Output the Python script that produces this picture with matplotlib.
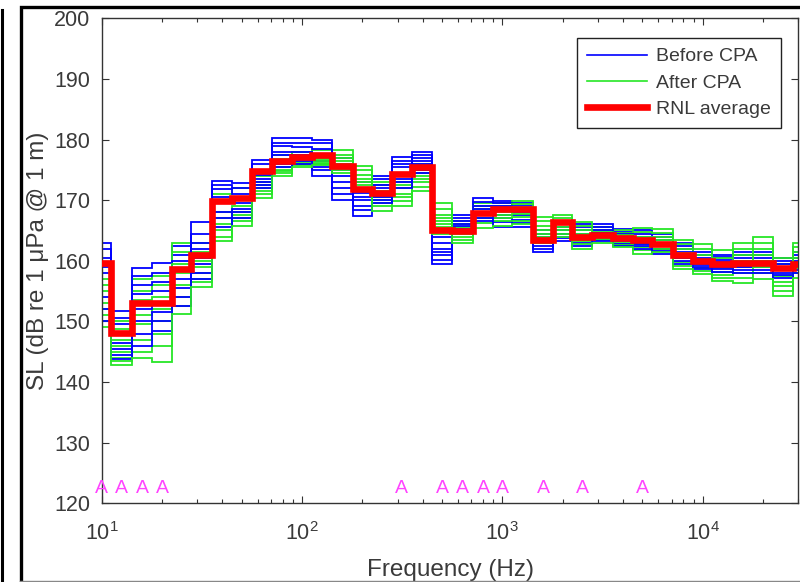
import numpy as np
import matplotlib
matplotlib.use("Agg")
import matplotlib.pyplot as plt
from matplotlib.lines import Line2D
from matplotlib.ticker import LogLocator, NullFormatter

plt.rcParams['font.family'] = ['Liberation Sans', 'DejaVu Sans']

# 1/3-octave band centre frequencies (Hz)
bands = [10, 12.5, 16, 20, 25, 31.5, 40, 50, 63, 80, 100, 125, 160, 200, 250,
         315, 400, 500, 630, 800, 1000, 1250, 1600, 2000, 2500, 3150, 4000,
         5000, 6300, 8000, 10000, 12500, 16000, 20000, 25000, 31500]

# Before CPA: per band, levels of the individual runs (dB)
before_cpa = [
    [163, 162, 160.5, 159, 158, 154, 152, 150],
    [151.7, 150.5, 149.5, 148, 146.5, 145.5, 144.5, 143.8],
    [158.8, 157.5, 156, 154.5, 152, 150, 148, 146],
    [159.7, 158, 156.5, 155, 153, 151.5, 150, 148.5],
    [162.4, 161, 160, 158.5, 157, 155.5, 154, 152.5],
    [166.4, 164.5, 163, 162, 160.5, 159.5, 158, 157],
    [173.1, 172.5, 171.8, 170.5, 169.5, 168, 167, 165.5],
    [172.9, 172, 171, 170.5, 169.5, 168.5, 168, 167],
    [176.7, 176, 175, 174.2, 173.5, 173, 172.5, 172],
    [180.3, 179.5, 179, 178, 177.5, 176.5, 176, 175.5],
    [180.2, 179.5, 178.8, 178, 177.5, 177, 176.5, 176],
    [180, 179.5, 178.5, 177.5, 176.5, 175.5, 175, 174],
    [177, 176, 175, 174, 173, 172, 171, 170],
    [173, 172, 171.2, 170.5, 170, 169, 168.3, 167.4],
    [174, 173.5, 172.5, 172, 171, 170.5, 170, 169.5],
    [177.1, 176.5, 176, 175.5, 174.5, 173.5, 173, 172],
    [178, 177.5, 177, 176.5, 176, 175.5, 175, 174.5],
    [165, 164, 163, 162, 161.5, 161, 160.2, 159.4],
    [167.6, 167, 166.5, 166, 165.7, 165.3, 165, 164.6],
    [170.3, 169.7, 169, 168.5, 168, 167.5, 167, 166.5],
    [169.9, 169.5, 169, 168.2, 167.5, 167, 166.4, 165.6],
    [169.5, 169, 168.5, 168, 167.5, 166.8, 166.2, 165.5],
    [165, 164.5, 164, 163.5, 163, 162.5, 162, 161.5],
    [166.5, 166, 165.5, 165, 164.5, 164, 163.7, 163.3],
    [166, 165.5, 165, 164.5, 164, 163.5, 163, 162.5],
    [166, 165.5, 165, 164.6, 164.2, 163.8, 163.5, 163.2],
    [165.2, 164.8, 164.4, 164, 163.6, 163.2, 162.8, 162.4],
    [165, 164.5, 164, 163.5, 163, 162.7, 162.4, 162],
    [164.5, 164, 163.5, 163, 162.5, 162, 161.6, 161.1],
    [163, 162.5, 162, 161.5, 161, 160.5, 160, 159.4],
    [161.5, 161, 160.5, 160, 159.7, 159.3, 159, 158.6],
    [161, 160.6, 160.2, 159.8, 159.4, 159, 158.6, 158.2],
    [161.5, 161, 160.5, 160, 159.5, 159, 158.5, 158],
    [161.5, 161, 160.5, 160, 159.5, 159, 158.5, 158],
    [160.5, 160, 159.5, 159, 158.5, 158, 157.6, 157.2],
    [161.5, 161, 160.5, 160, 159.5, 159, 158.5, 158],
]

# After CPA: per band, levels of the individual runs (dB)
after_cpa = [
    [157, 156, 155, 153, 152, 151, 150, 149],
    [150, 148.8, 147, 146, 145, 144, 143.5, 142.8],
    [157, 155, 153.5, 151, 149.5, 147, 145, 144],
    [157.5, 156, 154, 152, 150, 148, 146, 143.3],
    [163, 161.5, 159.5, 158, 156, 154, 152.5, 151.3],
    [163, 161.5, 160, 159, 158, 157, 156.5, 155.6],
    [171, 169.5, 168, 167, 166, 165, 164, 163.2],
    [172, 170.5, 169, 168, 167.5, 167, 166.5, 165.7],
    [175, 174, 173, 172.5, 172, 171.5, 171, 170.4],
    [177.5, 176.8, 176, 175.5, 175, 174.8, 174.4, 174],
    [178, 177.5, 177, 176.5, 176.2, 176, 175.8, 175.5],
    [178.2, 177.5, 177, 176.8, 176.5, 176.2, 176, 175.8],
    [178.2, 177.5, 177, 176.5, 176, 175.5, 175, 174.5],
    [175.6, 175, 174.2, 173.5, 173, 172.5, 172, 171.5],
    [173, 172.5, 171.5, 170.5, 170, 169.5, 169, 168.2],
    [174, 173, 172.5, 172, 171, 170.5, 169.8, 169],
    [176, 175, 174.5, 174, 173.5, 173, 172.2, 171.5],
    [169.6, 168.5, 167.5, 167, 166.5, 166, 165.5, 164.5],
    [166.5, 166, 165.5, 165, 164.5, 164, 163.5, 163],
    [169.5, 169, 168.5, 168, 167.5, 167, 166.2, 165.4],
    [169.6, 169, 168.5, 168, 167.5, 167, 166.5, 165.8],
    [169.9, 169.3, 168.8, 168.3, 167.8, 167.2, 166.5, 166],
    [167.2, 166.5, 165.8, 165, 164.5, 164, 163.5, 163],
    [167.5, 167, 166.5, 166, 165.5, 165, 164.5, 164],
    [166.4, 165.8, 165, 164.5, 164, 163.3, 162.7, 162],
    [165.5, 165, 164.7, 164.3, 164, 163.7, 163.4, 163],
    [165, 164.6, 164.2, 163.8, 163.4, 163, 162.6, 162.2],
    [165.4, 164.8, 164, 163.4, 162.8, 162.2, 161.7, 161.2],
    [165.2, 164.6, 164, 163.4, 163, 162.5, 162, 161.5],
    [163.5, 162.8, 162, 161.3, 160.5, 159.8, 159.2, 158.6],
    [162.7, 162, 161, 160.2, 159.5, 158.8, 158.3, 157.8],
    [161.7, 160.5, 159.5, 158.8, 158.2, 157.6, 157.1, 156.6],
    [163, 162, 161, 160, 159, 158, 157.2, 156.4],
    [163.9, 163, 162, 161, 160, 159, 158, 157],
    [160.5, 159.5, 158.5, 157.5, 156.5, 155.8, 155, 154.2],
    [163, 162.2, 161.5, 160.5, 159.5, 158.8, 158, 157.2],
]

# RNL average per band (dB)
rnl_average = [159.7, 148.1, 153, 153, 158.6, 161, 169.8, 170.4, 174.8, 176.5,
               177.1, 177.4, 175.6, 171.8, 171.2, 174.3, 175.5, 165.0, 164.9,
               167.9, 168.5, 168.5, 163.5, 166.4, 164.0, 164.3, 163.8, 163.5,
               162.7, 161.0, 159.9, 159.4, 159.6, 159.6, 158.8, 159.4]

# Bands flagged with "A"
a_bands = [10, 12.5, 16, 20, 315, 500, 630, 800, 1000, 1600, 2500, 5000]
a_level = 122.5

x_ticks = [10, 100, 1000, 10000]
y_ticks = [120, 130, 140, 150, 160, 170, 180, 190, 200]

# ---------------------------------------------------------------
c = np.array(bands, dtype=float)
inner = np.sqrt(c[:-1] * c[1:])
edges = np.concatenate([[c[0] / 10 ** 0.05], inner, [c[-1] * 10 ** 0.05]])

B = np.array(before_cpa).T
G = np.array(after_cpa).T

fig = plt.figure(figsize=(8, 5.82), dpi=100)
ax = fig.add_axes([0.1271, 0.1352, 0.8708, 0.8334])

blue = (0.0, 0.0, 1.0)
green = (0.15, 0.9, 0.15)
for i in range(B.shape[0]):
    ax.stairs(B[i], edges, baseline=None, color=blue, lw=1.3, zorder=2)
    ax.stairs(G[i], edges, baseline=None, color=green, lw=1.3, zorder=2)
ax.stairs(np.array(rnl_average), edges, baseline=None, color=(1, 0, 0), lw=4.8, zorder=3)

for f in a_bands:
    ax.text(f, a_level, 'A', color='#ff44ff', ha='center', va='center', fontsize=14, zorder=4)

ax.set_xscale('log')
ax.set_xlim(10, 30000)
ax.set_ylim(120, 200)
ax.set_xticks(x_ticks)
ax.xaxis.set_minor_locator(LogLocator(base=10, subs=np.arange(2, 10)))
ax.xaxis.set_minor_formatter(NullFormatter())
ax.set_yticks(y_ticks)

axc = '#333333'
for s in ax.spines.values():
    s.set_color(axc)
    s.set_linewidth(1.0)
ax.tick_params(which='both', direction='in', top=True, right=True, colors=axc,
               labelcolor='#3a3a3a', labelsize=15.5)
ax.tick_params(which='major', length=5, width=0.8)
ax.tick_params(which='minor', length=3, width=0.8)
ax.tick_params(axis='y', pad=8)
ax.tick_params(axis='x', pad=13.5)

ax.set_xlabel('Frequency (Hz)', fontsize=17.5, color='#3a3a3a', labelpad=10)
ax.set_ylabel('SL (dB re 1 μPa @ 1 m)', fontsize=17.5, color='#3a3a3a', labelpad=4)

handles = [Line2D([], [], color=blue, lw=1.2),
           Line2D([], [], color=green, lw=1.2),
           Line2D([], [], color=(1, 0, 0), lw=4.8)]
leg = ax.legend(handles, ['Before CPA', 'After CPA', 'RNL average'],
                loc='upper right', bbox_to_anchor=(0.975, 0.96), borderaxespad=0,
                fancybox=False, framealpha=1, edgecolor='#222222', fontsize=14,
                handlelength=3.1, handletextpad=0.45, labelspacing=0.45,
                borderpad=0.52)
leg.get_frame().set_linewidth(1.0)
for t in leg.get_texts():
    t.set_color('#3a3a3a')

# screenshot frame lines
W, H = 800, 582
fig.add_artist(Line2D([1.5 / W, 1.5 / W], [0, 1 - 10 / H], color='black', lw=2.2,
                      transform=fig.transFigure))
fig.add_artist(Line2D([20.5 / W, 20.5 / W, 1.0], [0, 1 - 7 / H, 1 - 7 / H], color='black',
                      lw=2.4, transform=fig.transFigure, solid_joinstyle='miter'))
fig.add_artist(Line2D([20 / W, 1.0], [0.7 / H, 0.7 / H], color='#888888', lw=1.0,
                      transform=fig.transFigure))

fig.savefig('out.png', dpi=100)
